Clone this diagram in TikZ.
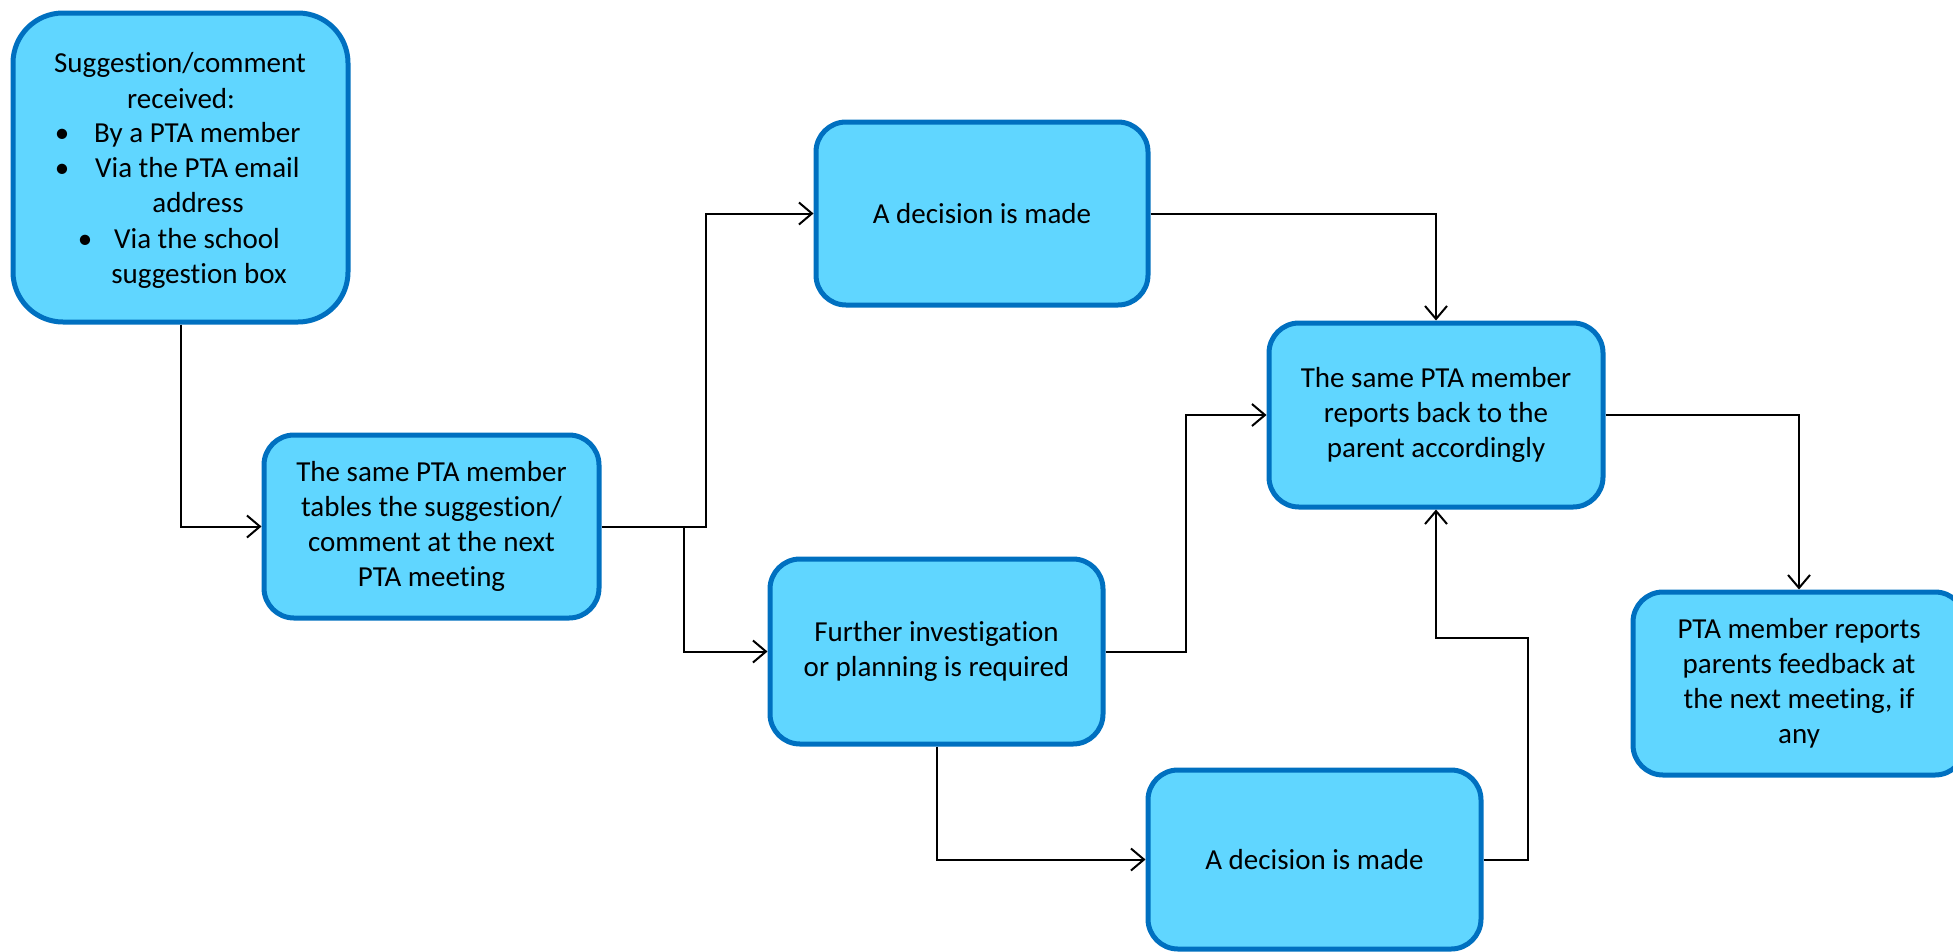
\documentclass[tikz,border=0pt]{standalone}
\usepackage{fontspec}
\setmainfont{Carlito}[Ligatures=NoCommon]
\usetikzlibrary{arrows.meta}
\definecolor{boxfill}{RGB}{96,214,255}
\definecolor{boxline}{RGB}{0,112,192}
\begin{document}
\begin{tikzpicture}[x=1pt,y=-1pt,
  every node/.style={font=\fontsize{29}{35}\selectfont},
  box/.style={draw=boxline, fill=boxfill, line width=5pt, align=center, inner sep=0pt},
  txt/.style={inner sep=0pt, anchor=base},
  arr/.style={line width=2pt, -{Straight Barb[length=13pt,width=22pt]}},
  ln/.style={line width=2pt}]
\useasboundingbox (0,0) rectangle (1953,951);
% boxes
\node[box, minimum width=335pt, minimum height=309pt, rounded corners=50pt] (b1) at (180.5,167.5) {};
\node[txt] (t1) at (180,72) {Suggestion/comment};
\node[txt] (t2) at (181,108) {received:};
\node[txt] (u1) at (62,142) {\textbullet};
\node[txt, anchor=base west] (t3) at (94,142) {By a PTA member};
\node[txt] (u2) at (62,177) {\textbullet};
\node[txt, anchor=base west] (t4) at (95,177) {Via the PTA email};
\node[txt] (t5) at (198,212) {address};
\node[txt] (u3) at (85,248) {\textbullet};
\node[txt] (t6) at (197,248) {Via the school};
\node[txt] (t7) at (199,283) {suggestion box};

\node[box, minimum width=335pt, minimum height=183pt, rounded corners=30pt] (b2) at (431.5,526.5)
  {The same PTA member\\tables the suggestion/\\comment at the next\\PTA meeting};
\node[box, minimum width=332pt, minimum height=183pt, rounded corners=30pt] (b3) at (982,213.5)
  {A decision is made};
\node[box, minimum width=333pt, minimum height=185pt, rounded corners=30pt] (b4) at (936.5,651.5)
  {Further investigation\\or planning is required};
\node[box, minimum width=333pt, minimum height=179pt, rounded corners=30pt] (b5) at (1314.5,859.5)
  {A decision is made};
\node[box, minimum width=334pt, minimum height=184pt, rounded corners=30pt] (b6) at (1436,415)
  {The same PTA member\\reports back to the\\parent accordingly};
\node[box, minimum width=332pt, minimum height=183pt, rounded corners=30pt] (b7) at (1799,683.5)
  {PTA member reports\\parents feedback at\\the next meeting, if\\any};

% junction coordinates
\coordinate (j1) at (706,526.5);
\coordinate (j2) at (684,526.5);
\coordinate (j3) at (1186,651.5);
\coordinate (j4) at (1528,859.5);
\coordinate (j5) at (1528,638);

% connectors
\draw[arr] (b1.south) |- (b2.west);
\draw[arr] (b2.east) -- (j1) |- (b3.west);
\draw[arr] (j2) |- (b4.west);
\draw[arr] (b3.east) -| (b6.north);
\draw[arr] (b4.east) -- (j3) |- (b6.west);
\draw[arr] (b4.south) |- (b5.west);
\draw[arr] (b5.east) -- (j4) -- (j5) -| (b6.south);
\draw[arr] (b6.east) -| (b7.north);
\end{tikzpicture}
\end{document}
